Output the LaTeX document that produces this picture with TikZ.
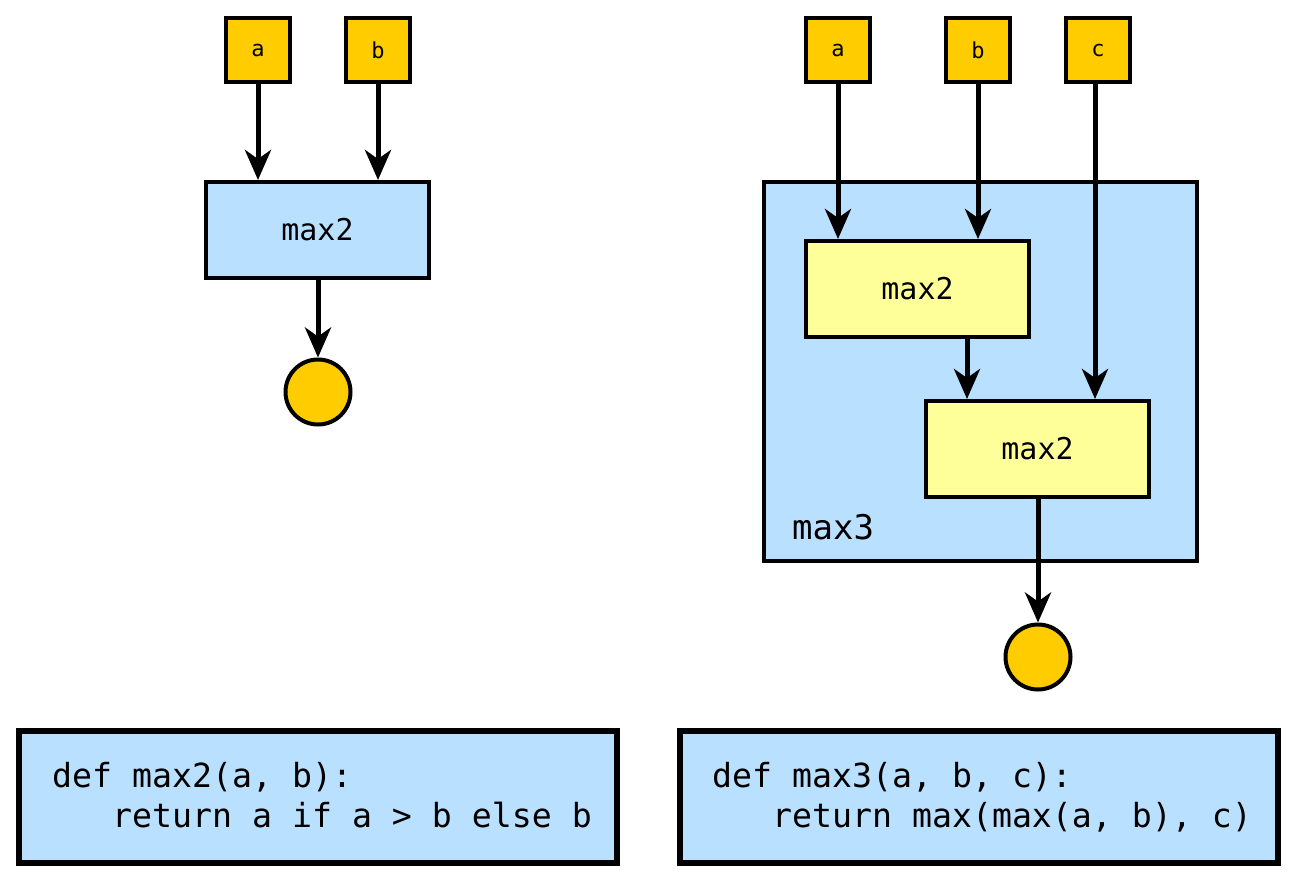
\documentclass[tikz,border=0pt]{standalone}
\usepackage{fontspec}
\setmonofont{DejaVu Sans Mono}
\usetikzlibrary{arrows.meta}
\definecolor{inyellow}{HTML}{FFCC00}
\definecolor{lblue}{HTML}{B9E0FF}
\definecolor{lyellow}{HTML}{FFFF99}
\tikzset{
  inbox/.style={draw=black,line width=4pt,fill=inyellow,minimum width=64pt,minimum height=64pt,inner sep=0pt,font=\ttfamily\fontsize{22}{26}\selectfont},
  fnbox/.style={draw=black,line width=4pt,fill=lblue,minimum width=223pt,minimum height=96pt,inner sep=0pt,font=\ttfamily\fontsize{30}{34}\selectfont},
  innerbox/.style={fnbox,fill=lyellow},
  outbox/.style={draw=black,line width=4pt,fill=lblue,minimum width=433pt,minimum height=379pt,inner sep=0pt},
  outcirc/.style={draw=black,line width=4pt,fill=inyellow,circle,minimum size=65pt,inner sep=0pt},
  codebox/.style={draw=black,line width=6pt,fill=lblue,minimum width=598pt,minimum height=132pt,inner sep=0pt},
  codeline/.style={anchor=base west,inner sep=0pt,font=\ttfamily\fontsize{33.2}{38}\selectfont},
  flow/.style={line width=5pt,-{Stealth[length=30pt,width=26pt,inset=9pt]}},
}
\begin{document}
\begin{tikzpicture}[x=1pt,y=-1pt]
\useasboundingbox (0,0) rectangle (1296,884);
% left
\node[inbox] (la) at (258,50) {a};
\node[inbox] (lb) at (378,50) {b};
\node[fnbox] (lmax) at (317.5,230) {max2};
\node[outcirc] (lout) at (318,392) {};
\draw[flow] (la.south) -- (la.south |- lmax.north);
\draw[flow] (lb.south) -- (lb.south |- lmax.north);
\draw[flow] (lmax.south -| lout.north) -- (lout.north);
% right
\node[inbox] (ra) at (838,50) {a};
\node[inbox] (rb) at (978,50) {b};
\node[inbox] (rc) at (1098,50) {c};
\node[outbox] (max3) at (980.5,371.5) {};
\node[anchor=base west,inner sep=0pt,font=\ttfamily\fontsize{34}{38}\selectfont] (max3lbl) at (792,539) {max3};
\node[innerbox] (m1) at (917.5,289) {max2};
\node[innerbox] (m2) at (1037.5,449) {max2};
\node[outcirc] (rout) at (1038,657) {};
\coordinate (cc) at (1095,0);
\coordinate (cm) at (967,0);
\draw[flow] (ra.south) -- (ra.south |- m1.north);
\draw[flow] (rb.south) -- (rb.south |- m1.north);
\draw[flow] (rc.south -| cc) -- (cc |- m2.north);
\draw[flow] (m1.south -| cm) -- (cm |- m2.north);
\draw[flow] (m2.south -| rout.north) -- (rout.north);
% code boxes
\node[codebox] (lcode) at (318,797) {};
\node[codebox] (rcode) at (978.5,797) {};
\node[codeline] (lc1) at (52,787) {def max2(a, b):};
\node[codeline] (lc2) at (52,827) {\ \ \ return a if a > b else b};
\node[codeline] (rc1) at (712,787) {def max3(a, b, c):};
\node[codeline] (rc2) at (712,827) {\ \ \ return max(max(a, b), c)};
\end{tikzpicture}
\end{document}
